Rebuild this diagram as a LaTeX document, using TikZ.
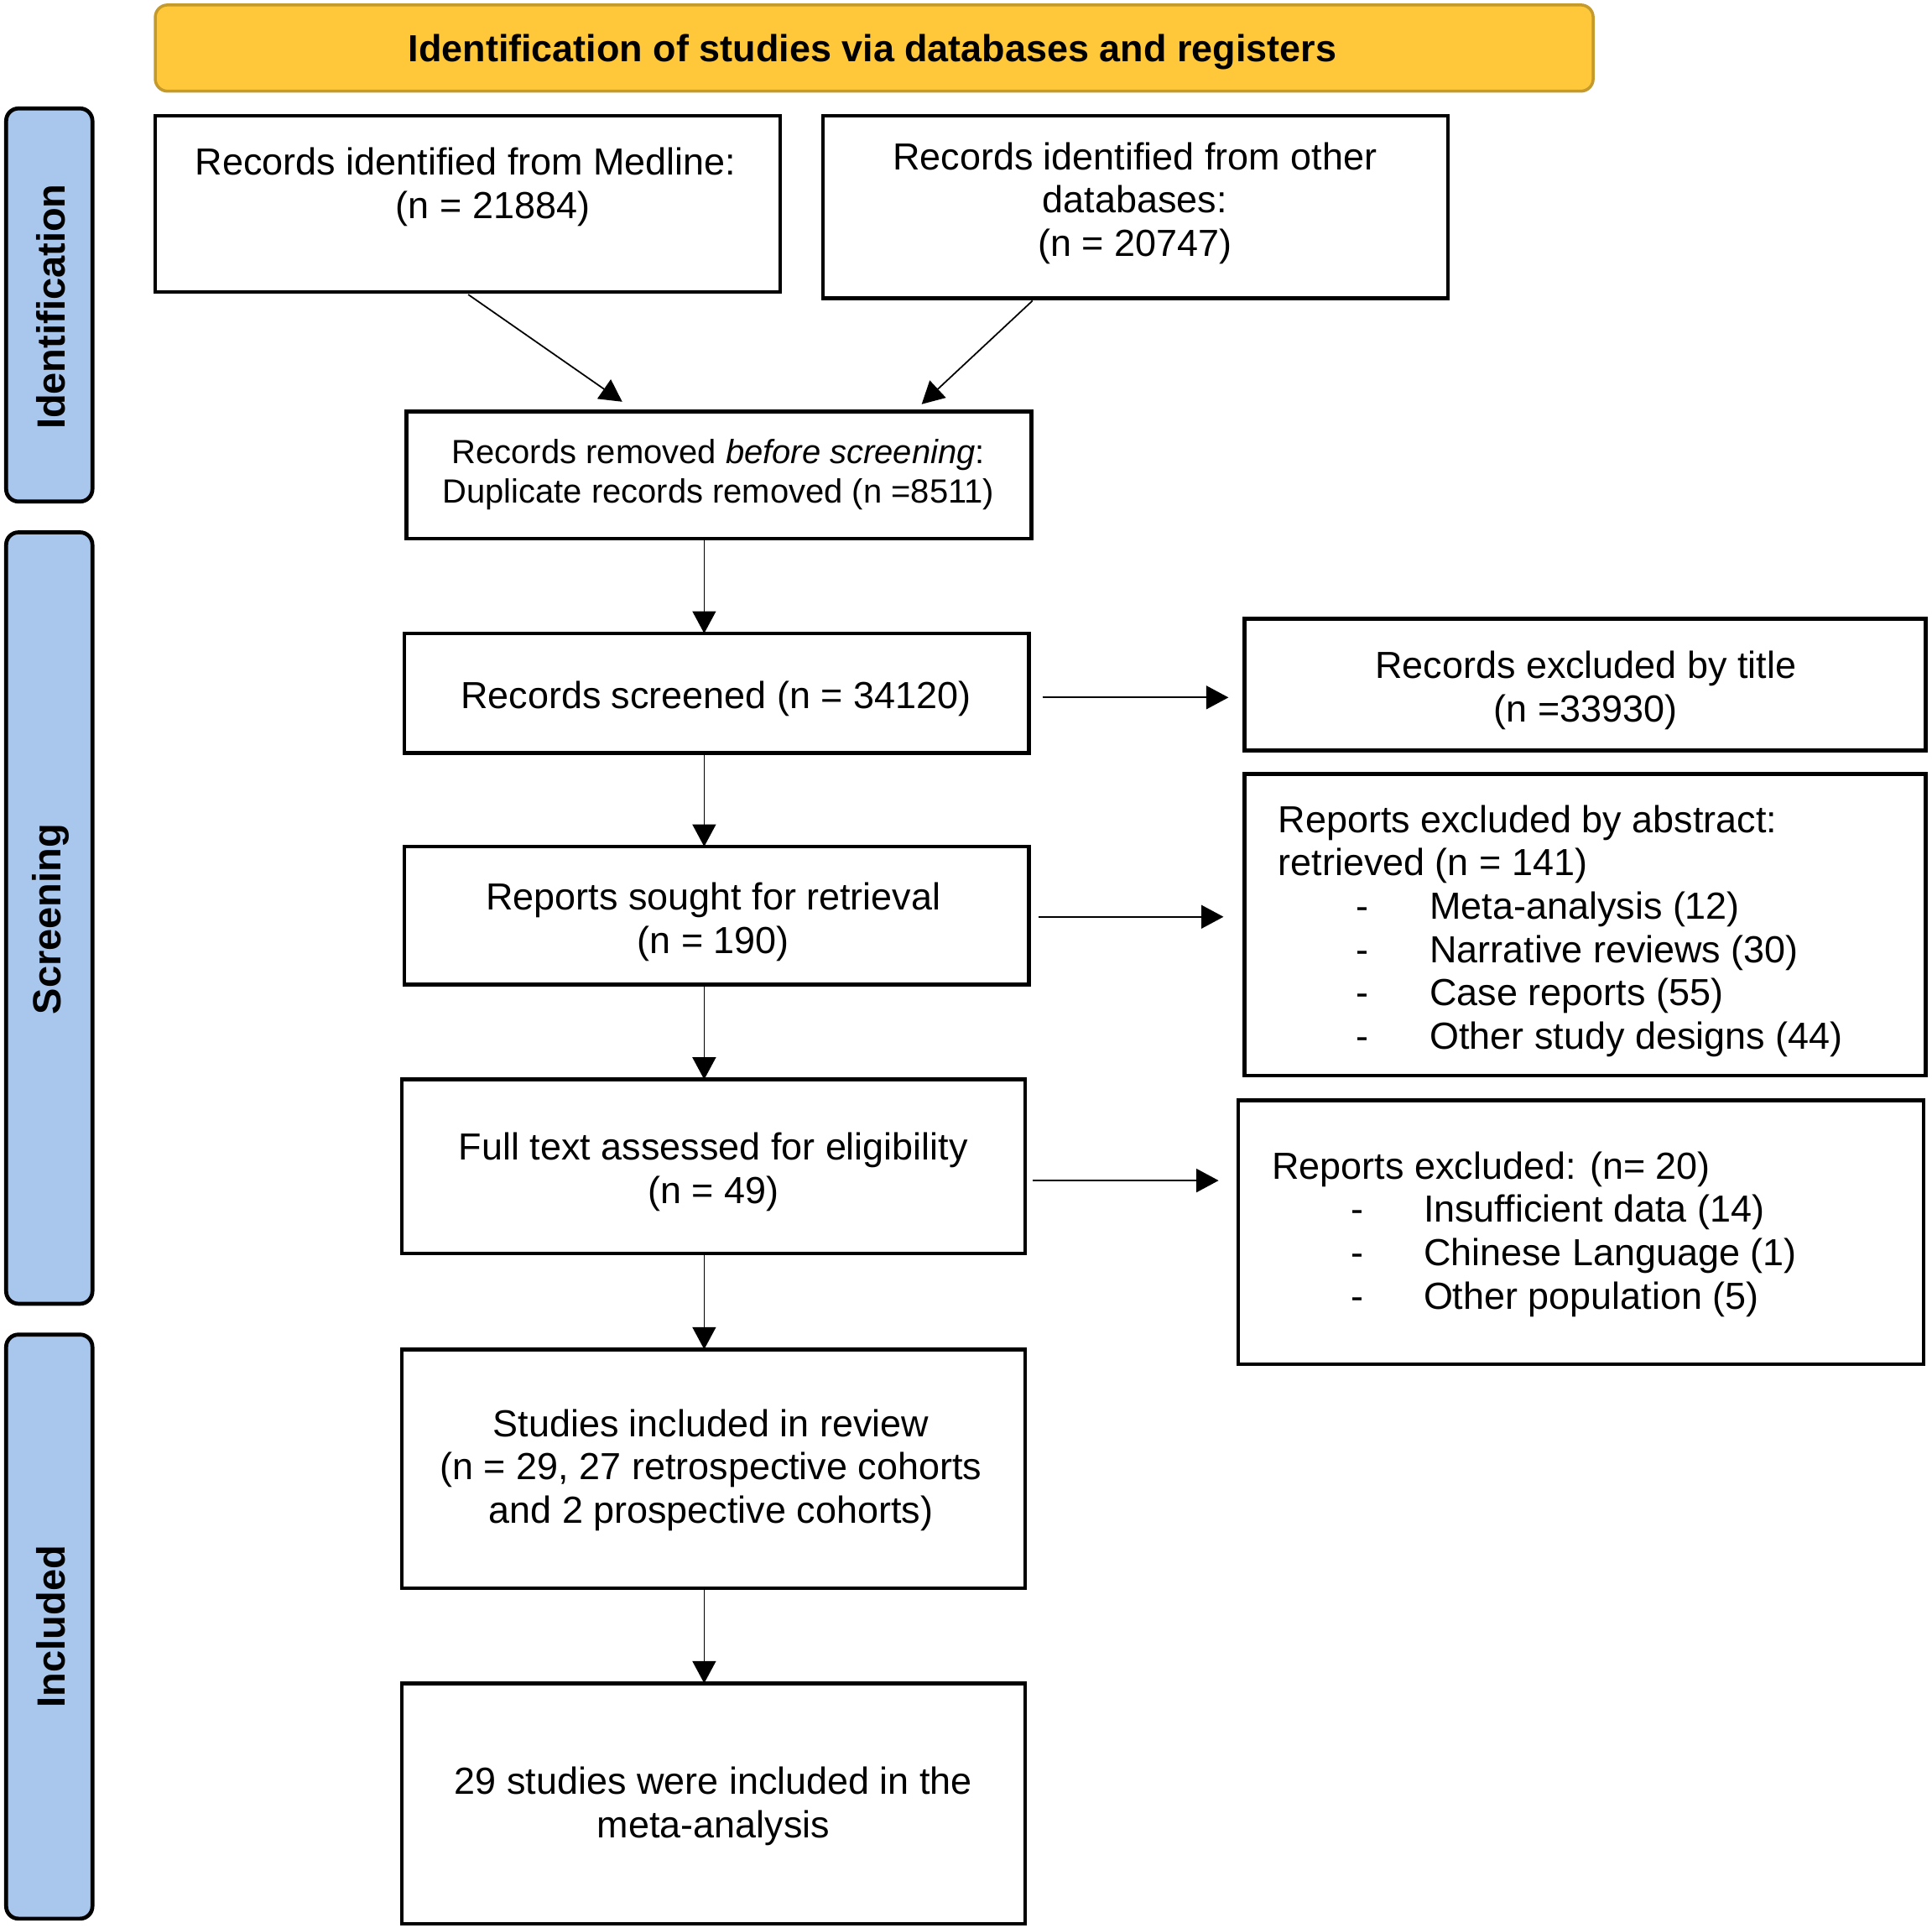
\documentclass[tikz,border=0pt]{standalone}
\usepackage{fontspec}
\setmainfont{Liberation Sans}
\usetikzlibrary{arrows.meta}
\definecolor{banfill}{RGB}{255,199,58}
\definecolor{banedge}{RGB}{196,154,44}
\definecolor{sidefill}{RGB}{169,198,236}
\tikzset{
 box/.style={draw=black, line width=1.5pt, fill=white, inner sep=0pt, outer sep=0pt, rectangle},
 sidebar/.style={draw=black, line width=1.6pt, fill=sidefill, rounded corners=5pt, inner sep=0pt, outer sep=0pt, rectangle},
 banner/.style={draw=banedge, line width=1.2pt, fill=banfill, rounded corners=5pt, inner sep=0pt, outer sep=0pt, rectangle},
 txt/.style={align=center, inner sep=0pt, font=\fontsize{15.3}{17.6}\selectfont},
 smalltxt/.style={align=center, inner sep=0pt, font=\fontsize{13.6}{16}\selectfont},
 listtxt/.style={align=left, inner sep=0pt, anchor=west, font=\fontsize{15.3}{17.6}\selectfont},
 arr/.style={line width=0.6pt, -{Triangle[length=9pt,width=9.5pt]}},
 sidelab/.style={rotate=90, inner sep=0pt, font=\fontsize{16}{19}\selectfont\bfseries},
 titletxt/.style={inner sep=0pt, font=\fontsize{15.3}{18}\selectfont\bfseries},
}
\newcommand\mkbox[6]{\node[#1, minimum width={(#4-#2)*0.5pt}, minimum height={(#5-#3)*0.5pt}] (#6) at ({(#2+#4)/2},{(#3+#5)/2}) {};}
\begin{document}
\begin{tikzpicture}[x=0.5pt, y=-0.5pt]
\useasboundingbox (0,0) rectangle (1568,1564);
% banner
\mkbox{banner}{126}{4}{1293}{74}{ban}
\node[titletxt] (bant) at (708,42) {Identification of studies via databases and registers};
% side bars
\mkbox{sidebar}{5}{88}{75}{407}{sid1}
\mkbox{sidebar}{5}{432}{75}{1058}{sid2}
\mkbox{sidebar}{5}{1083}{75}{1557}{sid3}
\node[sidelab] (lab1) at (41,249) {Identification};
\node[sidelab] (lab2) at (41,746) {Screening};
\node[sidelab] (lab3) at (41,1320) {Included};
% boxes
\mkbox{box}{126}{94}{633}{237}{med}
\mkbox{box}{668}{94}{1175}{242}{oth}
\mkbox{box}{330}{334}{837}{437}{rem}
\mkbox{box}{328}{514}{835}{611}{scr}
\mkbox{box}{1010}{502}{1563}{609}{tit}
\mkbox{box}{328}{687}{835}{799}{sou}
\mkbox{box}{1010}{628}{1563}{873}{abs}
\mkbox{box}{326}{876}{832}{1017}{ful}
\mkbox{box}{1005}{893}{1561}{1107}{exc}
\mkbox{box}{326}{1095}{832}{1289}{stu}
\mkbox{box}{326}{1366}{832}{1561}{met}
% texts
\node[txt] (medt) at (378,151.5) {Records identified from Medline:\\\hspace*{22pt}(n = 21884)};
\node[txt] (otht) at (921,165) {Records identified from other\\databases:\\(n = 20747)};
\node[smalltxt] (remt) at (583,385) {Records removed \textit{before screening}:\\Duplicate records removed (n =8511)};
\node[txt] (scrt) at (581,567) {Records screened (n = 34120)};
\node[txt] (titt) at (1287,560) {Records excluded by title\\(n =33930)};
\node[txt] (sout) at (579,748) {Reports sought for retrieval\\(n = 190)};
\node[listtxt] (abst) at (1037,755.5) {Reports excluded by abstract:\\retrieved (n = 141)\\
\hspace*{31.5pt}\makebox[30pt][l]{-}Meta-analysis (12)\\
\hspace*{31.5pt}\makebox[30pt][l]{-}Narrative reviews (30)\\
\hspace*{31.5pt}\makebox[30pt][l]{-}Case reports (55)\\
\hspace*{31.5pt}\makebox[30pt][l]{-}Other study designs (44)};
\node[txt] (fult) at (579,951) {Full text assessed for eligibility\\(n = 49)};
\node[listtxt] (exct) at (1032,1001.5) {Reports excluded: (n= 20)\\
\hspace*{32pt}\makebox[29.5pt][l]{-}Insufficient data (14)\\
\hspace*{32pt}\makebox[29.5pt][l]{-}Chinese Language (1)\\
\hspace*{32pt}\makebox[29.5pt][l]{-}Other population (5)};
\node[txt] (stut) at (577,1193) {Studies included in review\\(n = 29, 27 retrospective cohorts\\and 2 prospective cohorts)};
\node[txt] (mett) at (579,1466) {29 studies were included in the\\meta-analysis};
% connectors
\coordinate (colx) at (571.5,0);
\coordinate (medout) at (380,239);
\coordinate (othout) at (838,244);
\coordinate (remin1) at (505,326);
\coordinate (remin2) at (748,328);
\draw[arr] (medout) -- (remin1);
\draw[arr] (othout) -- (remin2);
\draw[arr] (rem.south -| colx) -- (scr.north -| colx);
\draw[arr] (scr.south -| colx) -- (sou.north -| colx);
\draw[arr] (sou.south -| colx) -- (ful.north -| colx);
\draw[arr] (ful.south -| colx) -- (stu.north -| colx);
\draw[arr] (stu.south -| colx) -- (met.north -| colx);
\draw[arr, shorten <=5.5pt, shorten >=6.5pt] ([yshift=-1.75pt]scr.east) -- ([yshift=-1.75pt]scr.east -| tit.west);
\draw[arr, shorten <=4pt, shorten >=8.5pt] ([yshift=-0.5pt]sou.east) -- ([yshift=-0.5pt]sou.east -| abs.west);
\draw[arr, shorten <=3pt, shorten >=8pt] ([yshift=-5.75pt]ful.east) -- ([yshift=-5.75pt]ful.east -| exc.west);
\end{tikzpicture}
\end{document}
